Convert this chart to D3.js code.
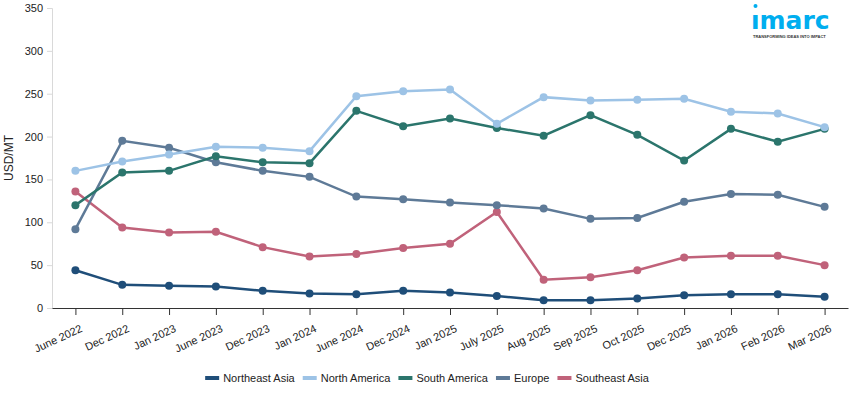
<!DOCTYPE html>
<html lang="en">
<head>
  <meta charset="UTF-8">
  <title>Price Trend by Region</title>
  <script src="https://d3js.org/d3.v7.min.js"></script>
  <style>
      body {
          margin: 0;
          padding: 0;
          background: #fff;
          font-family: Arial, 'Liberation Sans', sans-serif;
          overflow: hidden;
      }
      svg { display: block; }
  </style>
</head>
<body>
  <svg width="855" height="393"></svg>
  <script>
      // Data
      const periods = ["June 2022", "Dec 2022", "Jan 2023", "June 2023", "Dec 2023", "Jan 2024",
          "June 2024", "Dec 2024", "Jan 2025", "July 2025", "Aug 2025", "Sep 2025",
          "Oct 2025", "Dec 2025", "Jan 2026", "Feb 2026", "Mar 2026"];
      const seriesNames = ["Northeast Asia", "North America", "South America", "Europe", "Southeast Asia"];
      const northeastAsia = [44, 27, 26, 25, 20, 17, 16, 20, 18, 14, 9, 9, 11, 15, 16, 16, 13];
      const northAmerica = [160, 171, 179, 188, 187, 183, 247, 253, 255, 215, 246, 242, 243, 244, 229, 227, 211];
      const southAmerica = [120, 158, 160, 177, 170, 169, 230, 212, 221, 210, 201, 225, 202, 172, 209, 194, 209];
      const europe = [92, 195, 187, 170, 160, 153, 130, 127, 123, 120, 116, 104, 105, 124, 133, 132, 118];
      const southeastAsia = [136, 94, 88, 89, 71, 60, 63, 70, 75, 112, 33, 36, 44, 59, 61, 61, 50];
      const yTicks = [0, 50, 100, 150, 200, 250, 300, 350];
      const colors = ["#1f4e79", "#9dc3e6", "#2b756c", "#5e7a97", "#c0627a"];

      const allValues = [northeastAsia, northAmerica, southAmerica, europe, southeastAsia];

      const svg = d3.select("svg");
      const margin = {top: 8, right: 7, bottom: 85, left: 52};
      const width = 855 - margin.left - margin.right;
      const height = 393 - margin.top - margin.bottom;

      const g = svg.append("g").attr("transform", `translate(${margin.left},${margin.top})`);

      const x = d3.scalePoint().domain(periods).range([0, width]).padding(0.5);
      const y = d3.scaleLinear().domain([0, 350]).range([height, 0]);

      // y axis
      const yAxis = g.append("g")
          .call(d3.axisLeft(y).tickValues(yTicks).tickSize(5).tickPadding(4));
      yAxis.select(".domain").attr("stroke", "#d9d9d9");
      yAxis.selectAll(".tick line").attr("stroke", "#d9d9d9");
      yAxis.selectAll("text").attr("font-size", "11px").attr("fill", "#222")
          .attr("font-family", "Arial, 'Liberation Sans', sans-serif");

      // x axis
      const xAxis = g.append("g")
          .attr("transform", `translate(0,${height})`)
          .call(d3.axisBottom(x).tickSize(7).tickSizeOuter(0));
      xAxis.select(".domain").attr("stroke", "#333");
      xAxis.selectAll(".tick line").attr("stroke", "#333");
      xAxis.selectAll("text")
          .attr("font-size", "11px")
          .attr("fill", "#222")
          .attr("font-family", "Arial, 'Liberation Sans', sans-serif")
          .attr("text-anchor", "end")
          .attr("dy", "0")
          .attr("transform", "translate(3,14) rotate(-25)");

      // y label
      svg.append("text")
          .attr("transform", `translate(13,${margin.top + height / 2}) rotate(-90)`)
          .attr("text-anchor", "middle")
          .attr("font-size", "12px")
          .attr("fill", "#222")
          .text("USD/MT");

      const line = d3.line()
          .x((d, i) => x(periods[i]))
          .y(d => y(d));

      // last legend entry at the bottom, first on top
      const drawOrder = [4, 3, 2, 1, 0];
      drawOrder.forEach(k => {
          const s = g.append("g");
          s.append("path")
              .datum(allValues[k])
              .attr("d", line)
              .attr("fill", "none")
              .attr("stroke", colors[k])
              .attr("stroke-width", 2.5);
          s.selectAll("circle")
              .data(allValues[k])
              .enter().append("circle")
              .attr("cx", (d, i) => x(periods[i]))
              .attr("cy", d => y(d))
              .attr("r", 4)
              .attr("fill", colors[k]);
      });

      // legend
      const legend = svg.append("g").attr("transform", "translate(0,378)");
      const items = [];
      seriesNames.forEach((name, i) => {
          const it = legend.append("g");
          it.append("rect").attr("x", 0).attr("y", -2).attr("width", 14).attr("height", 4)
              .attr("fill", colors[i]);
          const t = it.append("text").attr("x", 18).attr("y", 4)
              .attr("font-size", "11px").attr("fill", "#222").text(name);
          const w = 18 + t.node().getComputedTextLength();
          items.push({it, w});
      });
      const gap = 8;
      const total = d3.sum(items, d => d.w) + gap * (items.length - 1);
      let lx = 427 - total / 2;
      items.forEach(d => {
          d.it.attr("transform", `translate(${lx},0)`);
          lx += d.w + gap;
      });

      // logo
      const logo = svg.append("g").attr("transform", "translate(752,0)");
      logo.append("circle").attr("cx", 3.5).attr("cy", 6).attr("r", 2).attr("fill", "#00aeef");
      logo.append("text").attr("x", -1).attr("y", 29)
          .attr("font-size", "25px").attr("font-weight", "bold")
          .attr("fill", "#00aeef").attr("letter-spacing", "0")
          .attr("font-family", "'DejaVu Sans', sans-serif")
          .text("ımarc");
      logo.append("text").attr("x", 1).attr("y", 38)
          .attr("font-size", "4px").attr("font-weight", "bold").attr("fill", "#333")
          .text("TRANSFORMING IDEAS INTO IMPACT");
  </script>
</body>
</html>
